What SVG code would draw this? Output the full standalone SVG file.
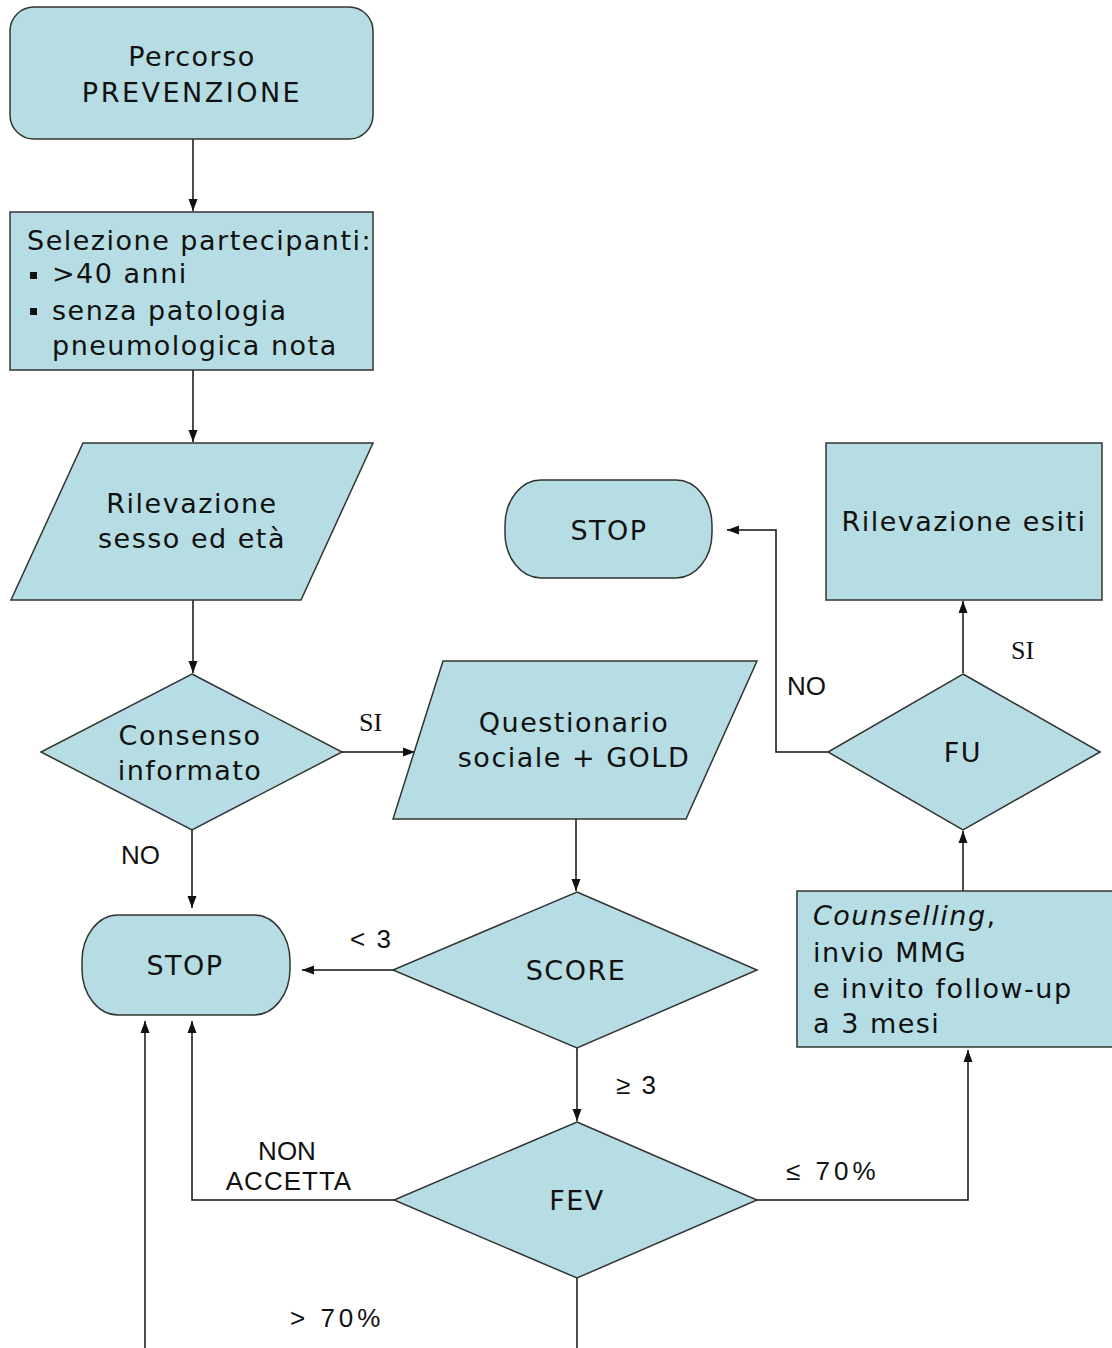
<svg xmlns="http://www.w3.org/2000/svg" width="1112" height="1348" viewBox="0 0 1112 1348">
<defs>
<marker id="ah" viewBox="0 0 12 10" refX="12" refY="5" markerWidth="12" markerHeight="10" markerUnits="userSpaceOnUse" orient="auto">
<path d="M0,0.5 L12,5 L0,9.5 Z" fill="#111"/>
</marker>
<style>
.n{fill:#b6dde3;stroke:#333;stroke-width:1.5}
.t{font-family:"DejaVu Sans",Verdana,sans-serif;font-size:27px;fill:#111;letter-spacing:1.5px}
.c{text-anchor:middle}
.l{font-family:"Liberation Sans",Arial,sans-serif;font-size:26px;fill:#111}
.s{font-family:"Liberation Serif","Times New Roman",serif;font-size:26px;fill:#111}
.e{fill:none;stroke:#111;stroke-width:1.5}
</style>
</defs>
<rect width="1112" height="1348" fill="#fff"/>
<g id="connectors">
<line class="e" x1="193" y1="139" x2="193" y2="211" marker-end="url(#ah)"/>
<line class="e" x1="193" y1="370" x2="193" y2="442" marker-end="url(#ah)"/>
<line class="e" x1="193" y1="600" x2="193" y2="673" marker-end="url(#ah)"/>
<line class="e" x1="342" y1="752" x2="415" y2="752" marker-end="url(#ah)"/>
<line class="e" x1="192" y1="830" x2="192" y2="908" marker-end="url(#ah)"/>
<line class="e" x1="576" y1="819" x2="576" y2="891" marker-end="url(#ah)"/>
<line class="e" x1="393" y1="970" x2="302" y2="970" marker-end="url(#ah)"/>
<line class="e" x1="577" y1="1048" x2="577" y2="1121" marker-end="url(#ah)"/>
<polyline class="e" points="394,1200 192,1200 192,1021" marker-end="url(#ah)"/>
<line class="e" x1="577" y1="1278" x2="577" y2="1348"/>
<line class="e" x1="145" y1="1348" x2="145" y2="1021" marker-end="url(#ah)"/>
<polyline class="e" points="757,1200 968,1200 968,1050" marker-end="url(#ah)"/>
<line class="e" x1="963" y1="891" x2="963" y2="831" marker-end="url(#ah)"/>
<line class="e" x1="963" y1="673" x2="963" y2="601" marker-end="url(#ah)"/>
<polyline class="e" points="828,752 776,752 776,530 727,530" marker-end="url(#ah)"/>
<text class="s" x="359" y="731">SI</text>
<text class="l" x="121" y="864">NO</text>
<text class="l" x="350" y="948" letter-spacing="2">&lt; 3</text>
<text class="l" x="616" y="1094" letter-spacing="2">≥ 3</text>
<text class="l c" x="287" y="1160">NON</text>
<text class="l c" x="289" y="1190" letter-spacing="1">ACCETTA</text>
<text class="l" x="290" y="1327" letter-spacing="4">&gt; 70%</text>
<text class="l" x="786" y="1180" letter-spacing="4">≤ 70%</text>
<text class="s" x="1011" y="659">SI</text>
<text class="l" x="787" y="695">NO</text>
</g>
<g id="start">
<rect class="n" x="10" y="7" width="363" height="132" rx="24" ry="24"/>
<text class="t c" x="192" y="66">Percorso</text>
<text class="t c" x="192" y="102" style="letter-spacing:2.5px">PREVENZIONE</text>
</g>
<g id="selezione">
<rect class="n" x="10" y="212" width="363" height="158"/>
<text class="t" x="27" y="250">Selezione partecipanti:</text>
<rect x="30" y="272" width="7" height="7" fill="#111"/>
<text class="t" x="52" y="283">&gt;40 anni</text>
<rect x="30" y="308" width="7" height="7" fill="#111"/>
<text class="t" x="52" y="320">senza patologia</text>
<text class="t" x="52" y="355">pneumologica nota</text>
</g>
<g id="rilevazione">
<polygon class="n" points="83,443 373,443 301,600 11,600"/>
<text class="t c" x="192" y="513">Rilevazione</text>
<text class="t c" x="192" y="548">sesso ed età</text>
</g>
<g id="consenso">
<polygon class="n" points="192,674 342,752 192,830 41,752"/>
<text class="t c" x="190" y="745">Consenso</text>
<text class="t c" x="190" y="780">informato</text>
</g>
<g id="questionario">
<polygon class="n" points="443,661 757,661 686,819 393,819"/>
<text class="t c" x="574" y="732">Questionario</text>
<text class="t c" x="574" y="767">sociale + GOLD</text>
</g>
<g id="stop1">
<rect class="n" x="82" y="915" width="208" height="100" rx="36" ry="46"/>
<text class="t c" x="185" y="975">STOP</text>
</g>
<g id="score">
<polygon class="n" points="577,892 757,970 577,1048 393,970"/>
<text class="t c" x="576" y="980">SCORE</text>
</g>
<g id="fev">
<polygon class="n" points="577,1122 757,1200 577,1278 394,1200"/>
<text class="t c" x="577" y="1210">FEV</text>
</g>
<g id="counselling">
<rect class="n" x="797" y="891" width="320" height="156"/>
<text class="t" x="813" y="925"><tspan font-style="italic">Counselling</tspan>,</text>
<text class="t" x="813" y="962">invio MMG</text>
<text class="t" x="813" y="998">e invito follow-up</text>
<text class="t" x="813" y="1033">a 3 mesi</text>
</g>
<g id="fu">
<polygon class="n" points="963,674 1100,752 963,830 828,752"/>
<text class="t c" x="963" y="762">FU</text>
</g>
<g id="esiti">
<rect class="n" x="826" y="443" width="276" height="157"/>
<text class="t c" x="964" y="531">Rilevazione esiti</text>
</g>
<g id="stop2">
<rect class="n" x="505" y="480" width="207" height="98" rx="36" ry="45"/>
<text class="t c" x="609" y="540">STOP</text>
</g>
</svg>
